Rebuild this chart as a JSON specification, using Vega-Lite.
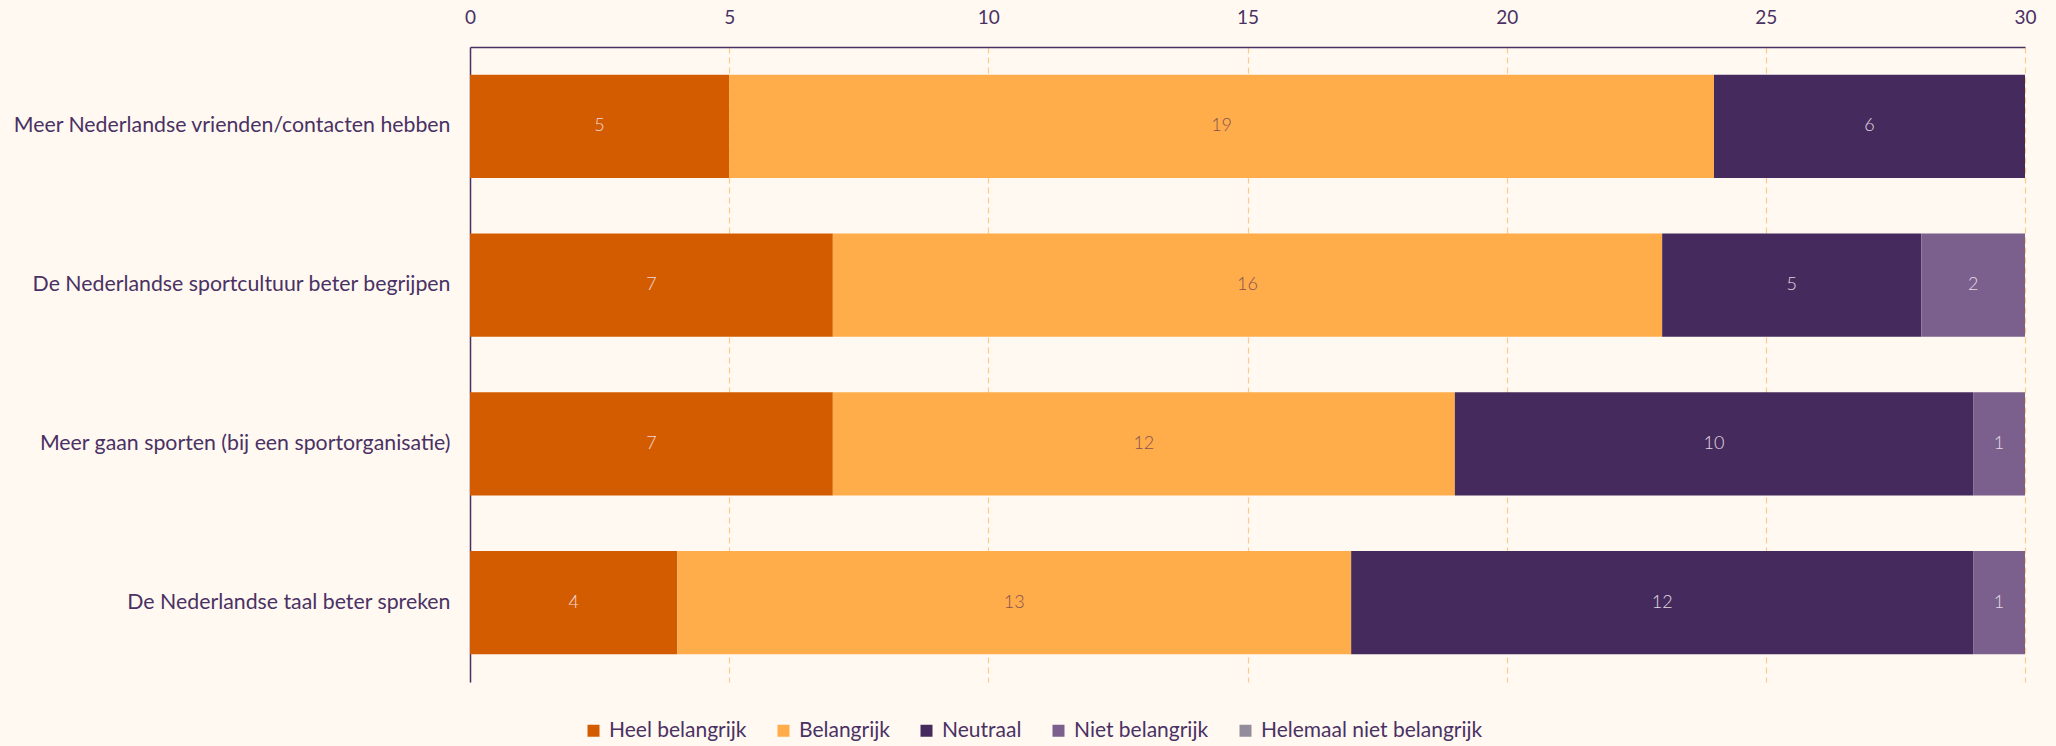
{
  "$schema": "https://vega.github.io/schema/vega-lite/v6.json",
  "width": 1555,
  "height": 635,
  "autosize": {"type": "none"},
  "padding": {"left": 470, "top": 47, "right": 31, "bottom": 64},
  "background": "#FFF9F2",
  "config": {
    "font": "Lato",
    "view": {"stroke": null},
    "axis": {"labelColor": "#4A3163", "domainColor": "#4A3163", "ticks": false, "title": null}
  },
  "data": {
    "values": [
      {"vraag": "Meer Nederlandse vrienden/contacten hebben", "categorie": "Heel belangrijk", "orde": 1, "aantal": 5},
      {"vraag": "Meer Nederlandse vrienden/contacten hebben", "categorie": "Belangrijk", "orde": 2, "aantal": 19},
      {"vraag": "Meer Nederlandse vrienden/contacten hebben", "categorie": "Neutraal", "orde": 3, "aantal": 6},
      {"vraag": "De Nederlandse sportcultuur beter begrijpen", "categorie": "Heel belangrijk", "orde": 1, "aantal": 7},
      {"vraag": "De Nederlandse sportcultuur beter begrijpen", "categorie": "Belangrijk", "orde": 2, "aantal": 16},
      {"vraag": "De Nederlandse sportcultuur beter begrijpen", "categorie": "Neutraal", "orde": 3, "aantal": 5},
      {"vraag": "De Nederlandse sportcultuur beter begrijpen", "categorie": "Niet belangrijk", "orde": 4, "aantal": 2},
      {"vraag": "Meer gaan sporten (bij een sportorganisatie)", "categorie": "Heel belangrijk", "orde": 1, "aantal": 7},
      {"vraag": "Meer gaan sporten (bij een sportorganisatie)", "categorie": "Belangrijk", "orde": 2, "aantal": 12},
      {"vraag": "Meer gaan sporten (bij een sportorganisatie)", "categorie": "Neutraal", "orde": 3, "aantal": 10},
      {"vraag": "Meer gaan sporten (bij een sportorganisatie)", "categorie": "Niet belangrijk", "orde": 4, "aantal": 1},
      {"vraag": "De Nederlandse taal beter spreken", "categorie": "Heel belangrijk", "orde": 1, "aantal": 4},
      {"vraag": "De Nederlandse taal beter spreken", "categorie": "Belangrijk", "orde": 2, "aantal": 13},
      {"vraag": "De Nederlandse taal beter spreken", "categorie": "Neutraal", "orde": 3, "aantal": 12},
      {"vraag": "De Nederlandse taal beter spreken", "categorie": "Niet belangrijk", "orde": 4, "aantal": 1}
    ]
  },
  "encoding": {
    "y": {
      "field": "vraag", "type": "nominal",
      "sort": ["Meer Nederlandse vrienden/contacten hebben", "De Nederlandse sportcultuur beter begrijpen", "Meer gaan sporten (bij een sportorganisatie)", "De Nederlandse taal beter spreken"],
      "scale": {"paddingInner": 0.35, "paddingOuter": 0.175},
      "axis": {"labelFontSize": 21.3, "labelPadding": 20, "labelLimit": 600, "domainWidth": 1.5}
    },
    "x": {
      "field": "aantal", "type": "quantitative", "stack": "zero",
      "scale": {"domain": [0, 30], "nice": false},
      "axis": {"orient": "top", "values": [0, 5, 10, 15, 20, 25, 30], "labelFontSize": 19, "labelPadding": 20, "labelFlush": false,
               "grid": true, "gridColor": "#FFC98A", "gridDash": [6, 4], "gridWidth": 1.2, "domainWidth": 1.5}
    },
    "detail": {"field": "categorie", "type": "nominal"},
    "order": {"field": "orde", "type": "quantitative"}
  },
  "layer": [
    {
      "mark": {"type": "bar"},
      "encoding": {
        "color": {
          "field": "categorie", "type": "nominal",
          "scale": {
            "domain": ["Heel belangrijk", "Belangrijk", "Neutraal", "Niet belangrijk", "Helemaal niet belangrijk"],
            "range": ["#D45C00", "#FFAC4B", "#452B5D", "#7B5F8C", "#928C9B"]
          },
          "legend": {
            "title": null, "orient": "none", "direction": "horizontal", "legendX": 113, "legendY": 673,
            "symbolType": "square", "symbolSize": 144, "symbolOpacity": 1, "symbolStrokeWidth": 0,
            "labelFontSize": 21, "labelColor": "#4A3163", "labelOffset": 5, "columnPadding": 26, "labelLimit": 400
          }
        }
      }
    },
    {
      "mark": {"type": "text", "fontSize": 18, "fontWeight": 300, "opacity": 0.9},
      "encoding": {
        "x": {"field": "aantal", "type": "quantitative", "stack": "zero", "bandPosition": 0.5},
        "text": {"field": "aantal", "type": "quantitative"},
        "color": {
          "condition": {"test": "datum.categorie === 'Belangrijk'", "value": "#7A4A52"},
          "value": "#F4E6EE"
        }
      }
    }
  ]
}
